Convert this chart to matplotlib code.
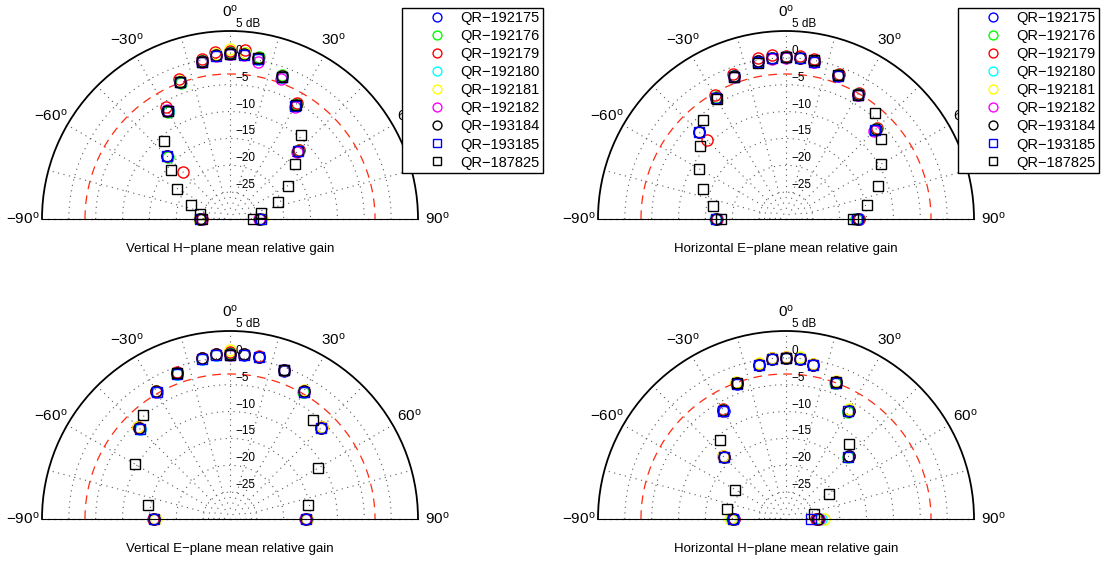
import numpy as np
import matplotlib.pyplot as plt

plt.rcParams['font.family'] = ['Liberation Sans', 'DejaVu Sans']
plt.rcParams['mathtext.fontset'] = 'custom'
plt.rcParams['mathtext.rm'] = 'Liberation Sans'
plt.rcParams['mathtext.default'] = 'regular'

# series names (legend order) and styles
names = ['QR\u2212192175', 'QR\u2212192176', 'QR\u2212192179', 'QR\u2212192180',
         'QR\u2212192181', 'QR\u2212192182', 'QR\u2212193184', 'QR\u2212193185',
         'QR\u2212187825']
colors = ['#0000ff', '#00ff00', '#ff0000', '#00ffff', '#ffff00', '#ff00ff', '#000000',
          '#0000ff', '#000000']
markers = ['o', 'o', 'o', 'o', 'o', 'o', 'o', 's', 's']

# measurement angles (deg)
ang_main = [-90, -45, -30, -20, -10, -5, 0, 5, 10, 20, 30, 45, 90]
ang_sq10 = [-90, -80, -70, -60, -50, -40, -30, -20, -10, 0, 10, 20, 30, 40, 50, 60, 70, 80, 90]
ang_sq20 = [-80, -60, -40, -20, 0, 20, 40, 60, 80]

# Vertical H-plane (dB), one row per series for ang_main
vh = [
    [-24.6, -13.5, -6.8, -2.9, -0.3, 0.6, 0.8, 0.8, 0.3, -1.8, -5.6, -12.1, -24.3],
    [-24.4, -13.6, -7.0, -3.1, -0.2, 0.7, 1.0, 1.0, 0.6, -1.5, -5.3, -11.9, -24.5],
    [-24.8, -17.6, -6.0, -2.2, 0.3, 1.2, 1.3, 1.5, 0.5, -1.6, -5.1, -11.8, -24.2],
    [-24.5, -13.3, -6.8, -2.8, -0.2, 0.6, 0.9, 0.9, 0.3, -1.8, -5.5, -12.0, -24.4],
    [-24.3, -13.4, -6.7, -2.7, -0.1, 0.8, 1.6, 1.1, 0.4, -1.7, -5.4, -12.1, -24.0],
    [-24.6, -13.4, -6.6, -2.9, -0.3, 0.5, 0.7, 0.7, -0.3, -2.2, -5.9, -12.3, -24.6],
    [-24.5, -13.3, -6.7, -2.8, -0.2, 0.6, 0.9, 0.9, 0.4, -1.7, -5.5, -12.0, -24.4],
    [-24.5, -13.4, -6.8, -2.9, -0.4, 0.4, 0.8, 0.7, 0.2, -1.9, -5.7, -12.1, -24.3],
]
vh_187825 = [-24.8, -24.3, -22.3, -18.7, -15.7, -11.0, -6.8, -2.9, -0.3, 0.8,
             0.4, -1.8, -5.5, -9.5, -14.2, -17.6, -20.5, -24.1, -25.7]

# Horizontal E-plane
he = [
    [-17.0, -7.1, -3.9, -1.7, -0.2, 0.0, 0.1, 0.1, -0.3, -1.6, -3.3, -6.5, -16.5],
    [-16.9, -7.0, -3.8, -1.6, -0.1, 0.1, 0.2, 0.2, -0.1, -1.4, -3.1, -6.2, -16.9],
    [-17.2, -9.1, -3.4, -1.3, 0.35, 0.6, 0.3, 0.5, 0.2, -1.3, -2.9, -6.0, -16.4],
    [-16.8, -7.0, -3.9, -1.7, -0.1, 0.1, 0.2, 0.1, -0.1, -1.5, -3.2, -6.4, -16.7],
    [-16.9, -7.1, -3.9, -1.8, -0.2, 0.1, 0.2, 0.1, -0.2, -1.5, -3.2, -6.4, -16.6],
    [-16.9, -7.2, -4.0, -1.8, -0.2, -0.1, 0.0, 0.0, -0.3, -1.7, -3.3, -6.7, -16.6],
    [-16.9, -7.1, -3.9, -1.7, -0.2, 0.1, 0.15, 0.1, -0.15, -1.5, -3.2, -6.4, -16.6],
    [-16.9, -7.2, -4.0, -1.8, -0.3, 0.0, 0.1, 0.0, -0.3, -1.6, -3.3, -6.5, -16.8],
]
he_187825 = [-17.9, -16.2, -13.5, -11.2, -9.0, -6.0, -4.2, -1.8, -0.5, 0.1,
             0.1, -1.5, -3.3, -4.3, -6.8, -9.6, -11.8, -14.6, -17.6]

# Vertical E-plane
ve = [
    [-15.9, -6.3, -2.8, -1.3, 0.2, 0.7, 0.7, 0.7, 0.6, -0.6, -2.6, -6.1, -15.8],
    [-15.8, -6.1, -2.6, -1.1, 0.4, 0.8, 0.9, 0.9, 0.7, -0.5, -2.7, -6.0, -15.9],
    [-15.7, -5.9, -2.4, -0.9, 0.5, 0.9, 1.0, 0.8, 0.8, -0.4, -2.4, -5.9, -15.7],
    [-15.8, -6.2, -2.7, -1.2, 0.3, 0.7, 0.8, 0.8, 0.6, -0.5, -2.5, -6.0, -15.8],
    [-16.2, -5.8, -2.5, -1.0, 0.5, 0.9, 1.5, 0.9, 0.7, -0.4, -2.3, -5.8, -15.6],
    [-15.8, -6.1, -2.6, -1.1, 0.4, 0.8, 0.6, 0.8, 0.7, -0.5, -2.5, -6.1, -16.0],
    [-15.8, -6.0, -2.5, -1.0, 0.4, 0.8, 0.8, 0.8, 0.7, -0.5, -2.5, -6.0, -15.8],
    [-15.8, -6.2, -2.8, -1.2, 0.3, 0.7, 0.6, 0.7, 0.6, -0.5, -2.6, -6.1, -15.8],
]
ve_187825 = [-14.5, -9.5, -4.7, -1.1, 0.6, -0.5, -6.0, -11.0, -15.2]

# Horizontal H-plane
hh = [
    [-20.3, -13.8, -6.8, -3.2, -0.9, -0.1, 0.0, -0.1, -0.9, -3.0, -6.8, -13.5, -24.2],
    [-20.0, -13.6, -6.7, -3.1, -0.8, 0.0, 0.0, 0.0, -0.9, -3.1, -6.9, -13.7, -23.8],
    [-20.4, -13.5, -6.4, -3.0, -0.7, 0.1, 0.1, 0.1, -0.7, -2.8, -6.6, -13.4, -24.5],
    [-20.1, -13.6, -6.6, -3.1, -0.8, -0.1, 0.0, 0.0, -0.8, -2.9, -6.6, -13.5, -23.5],
    [-19.6, -13.4, -6.5, -2.9, -0.6, 0.1, 0.1, 0.2, -0.7, -2.7, -6.4, -13.3, -22.9],
    [-20.2, -13.6, -6.7, -3.1, -0.8, -0.1, 0.0, -0.1, -0.8, -2.9, -6.7, -13.5, -23.8],
    [-20.2, -13.6, -6.65, -3.1, -0.8, -0.05, 0.05, -0.05, -0.8, -2.9, -6.7, -13.5, -24.0],
    [-20.2, -13.7, -6.7, -3.2, -0.9, -0.1, 0.0, -0.1, -0.9, -3.0, -6.8, -13.6, -25.3],
]
hh_187825 = [-18.8, -19.1, -10.9, -3.1, 0.0, -2.9, -11.7, -20.7, -24.7]

# axis scale
r_min, r_max = -30, 5
ring_levels = [-29, -28, -27, -26, -25, -20, -15, -10, -5, 0]
r_labels = ['5 dB', '0', '\u22125', '\u221210', '\u221215', '\u221220', '\u221225']
r_label_pos = [5, 0, -5, -10, -15, -20, -25]
ang_labels = [-90, -60, -30, 0, 30, 60, 90]

W, H = 1101, 562
fig = plt.figure(figsize=(W / 100, H / 100), dpi=100)
dot = (0, (1, 4))


def draw_panel(cx, cy, R, circles, squares, sq_angles, title, legend_xy=None):
    # square box: the half-disc is fitted in it, centred vertically
    ax = fig.add_axes([(cx - R) / W, (H - cy - R / 2) / H, 2 * R / W, 2 * R / H],
                      projection='polar')
    ax.set_theta_zero_location('N')
    ax.set_theta_direction(-1)
    ax.set_thetamin(-90)
    ax.set_thetamax(90)
    ax.set_rlim(r_min, r_max)
    ax.grid(False)
    ax.set_xticks([])
    ax.set_yticks([])
    for s in ['start', 'end', 'inner']:
        ax.spines[s].set_visible(False)
    ax.spines['polar'].set_linewidth(1.3)

    t = np.linspace(-np.pi / 2, np.pi / 2, 400)
    for r in ring_levels:
        ax.plot(t, np.full_like(t, r), color='0.35', lw=0.8, ls=dot)
    for a in range(-75, 76, 15):
        ax.plot([np.deg2rad(a)] * 2, [-25, r_max], color='0.35', lw=0.8, ls=dot)
    for a in [-90, 90]:
        ax.plot([np.deg2rad(a)] * 2, [r_min, r_max], color='0.2', lw=0.9, ls=dot, clip_on=False)
    ax.plot(t, np.full_like(t, -3), color='#ff2a10', lw=0.9, ls=(0, (7, 5)))

    for r, lab in zip(r_label_pos, r_labels):
        ax.annotate(lab, (0, r), xytext=(4, 5), textcoords='offset points',
                    ha='left', va='center', fontsize=8.5)
    for a in ang_labels:
        ax.text(np.deg2rad(a), 8.6, '$%d^o$' % a, ha='center', va='center',
                fontsize=11, clip_on=False)

    handles = []
    for vals, c, m in zip(circles, colors[:8], markers[:8]):
        h, = ax.plot(np.deg2rad(ang_main), vals, ls='none', marker=m, mfc='none',
                     mec=c, ms=8 if m == 'o' else 7, mew=1.0, clip_on=False)
        handles.append(h)
    h, = ax.plot(np.deg2rad(sq_angles), squares, ls='none', marker='s', mfc='none',
                 mec='k', ms=7, mew=1.0, clip_on=False)
    handles.append(h)

    fig.text(cx / W, 1 - (cy + 30) / H, title, ha='center', va='center', fontsize=9.5)

    if legend_xy is not None:
        fig.legend(handles, names, loc='upper left',
                   bbox_to_anchor=(legend_xy[0] / W, 1 - legend_xy[1] / H),
                   bbox_transform=fig.transFigure, borderaxespad=0,
                   fontsize=10.5, fancybox=False, framealpha=1, edgecolor='k',
                   borderpad=0.2, labelspacing=0.28, handlelength=4.4,
                   handletextpad=-0.6, markerscale=0.8)


draw_panel(230, 219, 188, vh, vh_187825, ang_sq10,
           'Vertical H\u2212plane mean relative gain', legend_xy=(402, 8))
draw_panel(786, 219, 188, he, he_187825, ang_sq10,
           'Horizontal E\u2212plane mean relative gain', legend_xy=(958, 8))
draw_panel(230, 519, 188, ve, ve_187825, ang_sq20,
           'Vertical E\u2212plane mean relative gain')
draw_panel(786, 519, 188, hh, hh_187825, ang_sq20,
           'Horizontal H\u2212plane mean relative gain')

fig.savefig('out.png', dpi=100)
